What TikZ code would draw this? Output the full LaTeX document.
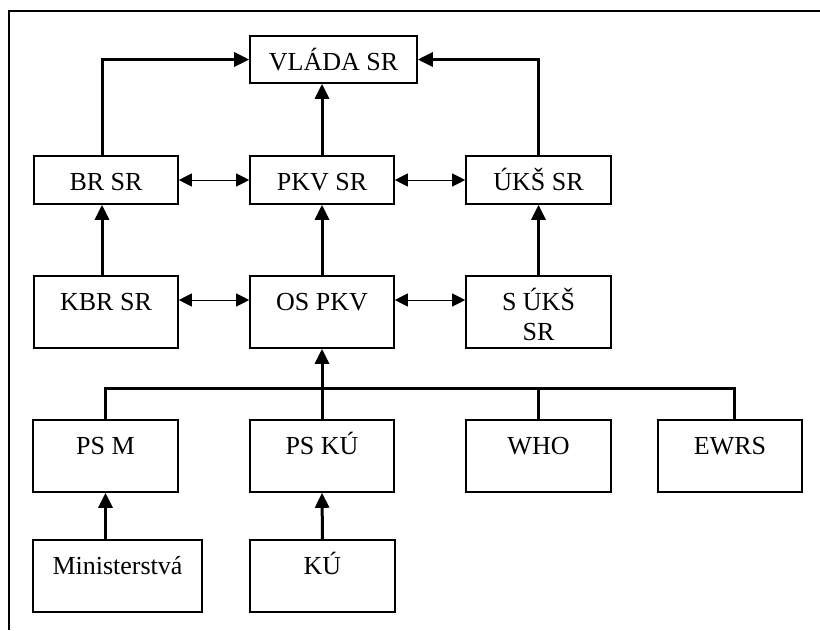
\documentclass[tikz,border=0pt]{standalone}
\usepackage{fontspec}
\setmainfont{Liberation Serif}
\usetikzlibrary{arrows.meta}
\begin{document}
\begin{tikzpicture}[x=1pt,y=-1pt,
  box/.style={draw, line width=1.6pt, fill=white, inner sep=0pt},
  lbl/.style={font=\fontsize{26}{30}\selectfont, inner sep=0pt, anchor=base},
  up/.style={line width=3pt, -{Triangle[length=15pt,width=14pt]}},
  both/.style={line width=1pt, {Triangle[length=13pt,width=13pt]}-{Triangle[length=13pt,width=13pt]}},
  busline/.style={line width=3pt},
  frame/.style={line width=2pt}]
\useasboundingbox (0,0) rectangle (820,630);
\draw[frame] (9,630) -- (9,11) -- (820,11);

% boxes
\node[box, minimum width=167pt, minimum height=47pt] (vlada) at (333.5,59.5) {};
\node[box, minimum width=144pt, minimum height=48pt] (br) at (106,180) {};
\node[box, minimum width=144pt, minimum height=48pt] (pkv) at (322,180) {};
\node[box, minimum width=145pt, minimum height=48pt] (uks) at (538.5,180) {};
\node[box, minimum width=144pt, minimum height=72pt] (kbr) at (106,312) {};
\node[box, minimum width=144pt, minimum height=72pt] (ospkv) at (322,312) {};
\node[box, minimum width=145pt, minimum height=72pt] (suks) at (538.5,312) {};
\node[box, minimum width=145pt, minimum height=72pt] (psm) at (105.5,456) {};
\node[box, minimum width=144pt, minimum height=72pt] (pskm) at (322,456) {};
\node[box, minimum width=145pt, minimum height=72pt] (who) at (538.5,456) {};
\node[box, minimum width=144pt, minimum height=72pt] (ewrs) at (730,456) {};
\node[box, minimum width=169pt, minimum height=72pt] (min) at (117.5,576) {};
\node[box, minimum width=145pt, minimum height=72pt] (ku) at (322.5,576) {};

% labels
\node[lbl] (tvlada) at (333.5,70) {VLÁDA SR};
\node[lbl] (tbr) at (106,190) {BR SR};
\node[lbl] (tpkv) at (322,190) {PKV SR};
\node[lbl] (tuks) at (538.5,190) {ÚKŠ SR};
\node[lbl] (tkbr) at (106,310) {KBR SR};
\node[lbl] (tospkv) at (322,310) {OS PKV};
\node[lbl] (tsuks1) at (538.5,310) {S ÚKŠ};
\node[lbl] (tsuks2) at (538.5,340) {SR};
\node[lbl] (tpsm) at (105.5,454) {PS M};
\node[lbl] (tpskm) at (322,454) {PS KÚ};
\node[lbl] (twho) at (538.5,454) {WHO};
\node[lbl] (tewrs) at (730,454) {EWRS};
\node[lbl] (tmin) at (117.5,574) {Ministerstvá};
\node[lbl] (tku) at (322.5,574) {KÚ};

% connectors
\coordinate (bus) at (0,388);
\draw[up] ([xshift=-4pt]br.north) |- (vlada.west);
\draw[up] (pkv.north) -- (pkv.north |- vlada.south);
\draw[up] (uks.north) |- (vlada.east);
\draw[both] (br.east) -- (pkv.west);
\draw[both] (pkv.east) -- (uks.west);
\draw[up] ([xshift=-4pt]kbr.north) -- ([xshift=-4pt]br.south);
\draw[up] (ospkv.north) -- (pkv.south);
\draw[up] (suks.north) -- (uks.south);
\draw[both] ([yshift=12pt]kbr.east) -- ([yshift=12pt]ospkv.west);
\draw[both] ([yshift=12pt]ospkv.east) -- ([yshift=12pt]suks.west);
\draw[busline] (psm.north) |- ([xshift=4pt]ewrs.north |- bus) -- ([xshift=4pt]ewrs.north);
\draw[busline] (who.north) -- (who.north |- bus);
\draw[up] (pskm.north) -- (ospkv.south);
\draw[up] (psm.south |- min.north) -- (psm.south);
\draw[up] (ku.north) -- (pskm.south);
\end{tikzpicture}
\end{document}
